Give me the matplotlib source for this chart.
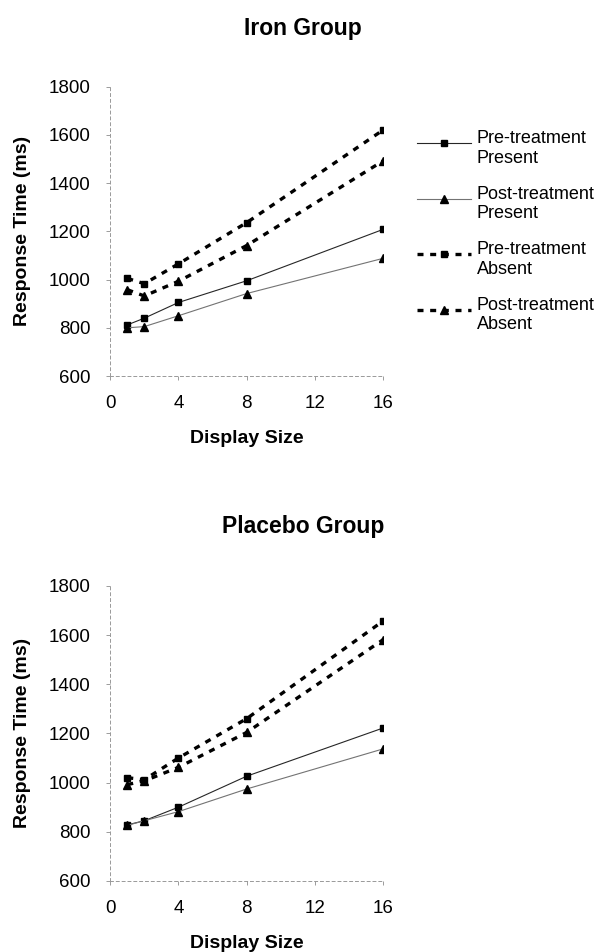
import matplotlib.pyplot as plt
from matplotlib.legend_handler import HandlerLine2D

display_size = [1, 2, 4, 8, 16]

# Iron group (ms)
iron_pre_present = [812, 840, 905, 995, 1208]
iron_post_present = [800, 805, 850, 942, 1088]
iron_pre_absent = [1005, 983, 1065, 1236, 1620]
iron_post_absent = [958, 932, 993, 1141, 1492]

# Placebo group (ms)
plac_pre_present = [828, 845, 900, 1026, 1222]
plac_post_present = [826, 845, 882, 974, 1137]
plac_pre_absent = [1020, 1012, 1100, 1260, 1657]
plac_post_absent = [992, 1007, 1062, 1204, 1581]

labels = ["Pre-treatment\nPresent", "Post-treatment\nPresent",
          "Pre-treatment\nAbsent", "Post-treatment\nAbsent"]
xticks = [0, 4, 8, 12, 16]
yticks = [600, 800, 1000, 1200, 1400, 1600, 1800]

plt.rcParams['font.family'] = ['Liberation Sans', 'DejaVu Sans']


class RaisedHandler(HandlerLine2D):
    # put the legend sample level with the first line of the label
    def create_artists(self, legend, orig_handle, xdescent, ydescent,
                       width, height, fontsize, trans):
        return super().create_artists(legend, orig_handle, xdescent, ydescent - 8,
                                      width, height, fontsize, trans)


fig = plt.figure(figsize=(6.09, 9.52), dpi=100)
ax1 = fig.add_axes([0.181, 0.605, 0.448, 0.304])
ax2 = fig.add_axes([0.181, 0.0746, 0.448, 0.31])

dash = (0, (1.8, 2.0))


def draw(ax, series, title, tpad):
    pre_p, post_p, pre_a, post_a = series
    ax.plot(display_size, pre_p, color='0.15', lw=0.8, marker='s', ms=4.5,
            markerfacecolor='black', markeredgecolor='black', label=labels[0])
    ax.plot(display_size, post_p, color='0.45', lw=0.8, marker='^', ms=5.5,
            markerfacecolor='black', markeredgecolor='black', label=labels[1])
    ax.plot(display_size, pre_a, color='black', lw=2.4, ls=dash, marker='s', ms=4.5, label=labels[2])
    ax.plot(display_size, post_a, color='black', lw=2.4, ls=dash, marker='^', ms=5.5, label=labels[3])
    ax.set_xlim(0, 16)
    ax.set_ylim(600, 1800)
    ax.set_xticks(xticks)
    ax.set_yticks(yticks)
    ax.tick_params(labelsize=13.5, length=3, width=0.6, color='0.55', pad=11)
    for s in ['top', 'right']:
        ax.spines[s].set_visible(False)
    for s in ['left', 'bottom']:
        ax.spines[s].set_color('0.6')
        ax.spines[s].set_linewidth(0.7)
        ax.spines[s].set_linestyle((0, (3, 3)))
    ax.set_xlabel('Display Size', fontsize=14, fontweight='bold', labelpad=12.5)
    ax.set_ylabel('Response Time (ms)', fontsize=14, fontweight='bold', labelpad=13)
    ax.set_title(title, fontsize=16.5, fontweight='bold', x=0.707, pad=tpad)


draw(ax1, [iron_pre_present, iron_post_present, iron_pre_absent, iron_post_absent],
     'Iron Group', 37)
draw(ax2, [plac_pre_present, plac_post_present, plac_pre_absent, plac_post_absent],
     'Placebo Group', 38)

ax1.legend(loc='upper left', bbox_to_anchor=(1.125, 0.85), frameon=False,
           fontsize=13, handlelength=3.0, handletextpad=0.3, labelspacing=1.05,
           borderaxespad=0, borderpad=0,
           handler_map={plt.Line2D: RaisedHandler()})

fig.savefig('out.png', dpi=100)
